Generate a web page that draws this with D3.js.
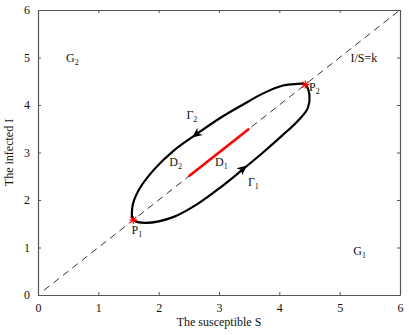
<!DOCTYPE html>
<html>
<head>
<meta charset="utf-8">
<script src="https://cdn.jsdelivr.net/npm/d3@7"></script>
<style>
  body { margin: 0; background: #fff; }
  text { font-family: "Liberation Serif", "Times New Roman", serif; fill: #111; }
</style>
</head>
<body>
<div id="chart"></div>
<script>
// axis ticks
const xTicks = [0, 1, 2, 3, 4, 5, 6]
const yTicks = [0, 1, 2, 3, 4, 5, 6]

// closed orbit, starting at P1, lower branch (Gamma1) to P2, upper branch (Gamma2) back
const orbitS = [1.58, 1.79, 2.24, 2.66, 3.03, 3.38, 3.72, 4.05, 4.31, 4.47, 4.50, 4.43, 4.25, 4.06, 3.74, 3.40, 3.00, 2.62, 2.25, 1.93, 1.67, 1.565]
const orbitI = [1.58, 1.52, 1.64, 1.93, 2.27, 2.63, 2.99, 3.36, 3.67, 3.93, 4.19, 4.43, 4.44, 4.41, 4.25, 4.01, 3.71, 3.38, 3.04, 2.65, 2.21, 1.86]

// equilibrium points P1, P2
const eqS = [1.58, 4.43]
const eqI = [1.58, 4.43]

// dashed line I/S = k and red segment
const lineS = [0.1, 6]
const lineK = 1
const segS = [2.5, 3.5]

// arrows on the orbit: position and direction
const arrowS = [2.62, 3.40]
const arrowI = [3.38, 2.66]
const arrowDir = [[-1, -0.95], [1, 1.02]]

// labels: main text, subscript, data position
const labelText = ['G', 'G', 'I/S=k', 'P', 'P', 'Γ', 'Γ', 'D', 'D']
const labelSub  = ['2', '1', '', '2', '1', '2', '1', '2', '1']
const labelS    = [0.57, 5.33, 5.40, 4.58, 1.64, 2.55, 3.57, 2.28, 3.04]
const labelI    = [4.99, 0.93, 4.99, 4.37, 1.36, 3.80, 2.37, 2.80, 2.80]

const width = 409, height = 335
const margin = { top: 10, right: 9, bottom: 40, left: 38 }

const svg = d3.select('#chart').append('svg')
  .attr('width', width)
  .attr('height', height)

const x = d3.scaleLinear().domain([0, 6]).range([margin.left, width - margin.right])
const y = d3.scaleLinear().domain([0, 6]).range([height - margin.bottom, margin.top])

const axisColor = '#555'

// frame with inward ticks on all four sides
const axisStyle = (g) => {
  g.select('.domain').attr('stroke', axisColor).attr('stroke-width', 1.2)
  g.selectAll('.tick line').attr('stroke', axisColor)
  g.selectAll('.tick text')
    .attr('font-family', '"Liberation Serif", serif')
    .attr('font-size', 12)
    .attr('fill', '#111')
}

svg.append('g')
  .attr('transform', `translate(0,${y(0)})`)
  .call(d3.axisBottom(x).tickValues(xTicks).tickSizeInner(-3).tickSizeOuter(0).tickPadding(8).tickFormat(d3.format('d')))
  .call(axisStyle)

svg.append('g')
  .attr('transform', `translate(${x(0)},0)`)
  .call(d3.axisLeft(y).tickValues(yTicks).tickSizeInner(-3).tickSizeOuter(0).tickPadding(8).tickFormat(d3.format('d')))
  .call(axisStyle)

svg.append('g')
  .attr('transform', `translate(0,${y(6)})`)
  .call(d3.axisTop(x).tickValues(xTicks).tickSizeInner(-3).tickSizeOuter(0).tickFormat(''))
  .call(axisStyle)

svg.append('g')
  .attr('transform', `translate(${x(6)},0)`)
  .call(d3.axisRight(y).tickValues(yTicks).tickSizeInner(-3).tickSizeOuter(0).tickFormat(''))
  .call(axisStyle)

// axis titles
svg.append('text')
  .attr('x', (x(0) + x(6)) / 2)
  .attr('y', height - 9)
  .attr('text-anchor', 'middle')
  .attr('font-size', 12)
  .text('The susceptible S')

svg.append('text')
  .attr('transform', `translate(13,${(y(0) + y(6)) / 2}) rotate(-90)`)
  .attr('text-anchor', 'middle')
  .attr('font-size', 12)
  .text('The infected I')

// dashed line I/S = k
svg.append('line')
  .attr('x1', x(lineS[0])).attr('y1', y(lineS[0] * lineK))
  .attr('x2', x(lineS[1])).attr('y2', y(lineS[1] * lineK))
  .attr('stroke', '#333')
  .attr('stroke-width', 1)
  .attr('stroke-dasharray', '7,5')

// red segment on the line
svg.append('line')
  .attr('x1', x(segS[0])).attr('y1', y(segS[0] * lineK))
  .attr('x2', x(segS[1])).attr('y2', y(segS[1] * lineK))
  .attr('stroke', '#f00')
  .attr('stroke-width', 2.6)

// closed orbit
const orbit = orbitS.map((s, i) => [s, orbitI[i]])
svg.append('path')
  .datum(orbit)
  .attr('d', d3.line().x(d => x(d[0])).y(d => y(d[1])).curve(d3.curveCatmullRomClosed.alpha(0.5)))
  .attr('fill', 'none')
  .attr('stroke', '#000')
  .attr('stroke-width', 2.2)

// arrowheads on the orbit
arrowS.forEach((s, i) => {
  const [dx, dy] = arrowDir[i]
  // direction in pixel space
  const px = x(s + dx * 0.1) - x(s), py = y(arrowI[i] + dy * 0.1) - y(arrowI[i])
  const ang = Math.atan2(py, px) * 180 / Math.PI
  svg.append('path')
    .attr('transform', `translate(${x(s)},${y(arrowI[i])}) rotate(${ang})`)
    .attr('d', 'M5,0 L-5,-4.5 L-2,0 L-5,4.5 Z')
    .attr('fill', '#000')
})

// equilibrium star markers
eqS.forEach((s, i) => {
  const g = svg.append('g')
    .attr('transform', `translate(${x(s)},${y(eqI[i])})`)
    .attr('stroke', '#f00')
    .attr('stroke-width', 1.2)
  g.append('line').attr('x1', -4).attr('x2', 4)
  g.append('line').attr('y1', -4).attr('y2', 4)
  g.append('line').attr('x1', -3).attr('y1', -3).attr('x2', 3).attr('y2', 3)
  g.append('line').attr('x1', -3).attr('y1', 3).attr('x2', 3).attr('y2', -3)
})

// text labels with subscripts
labelText.forEach((t, i) => {
  const txt = svg.append('text')
    .attr('x', x(labelS[i]))
    .attr('y', y(labelI[i]) + 4)
    .attr('text-anchor', 'middle')
    .attr('font-size', 12)
  txt.append('tspan').text(t)
  if (labelSub[i]) {
    txt.append('tspan')
      .attr('dy', 3)
      .attr('font-size', 8)
      .text(labelSub[i])
  }
})
</script>
</body>
</html>
